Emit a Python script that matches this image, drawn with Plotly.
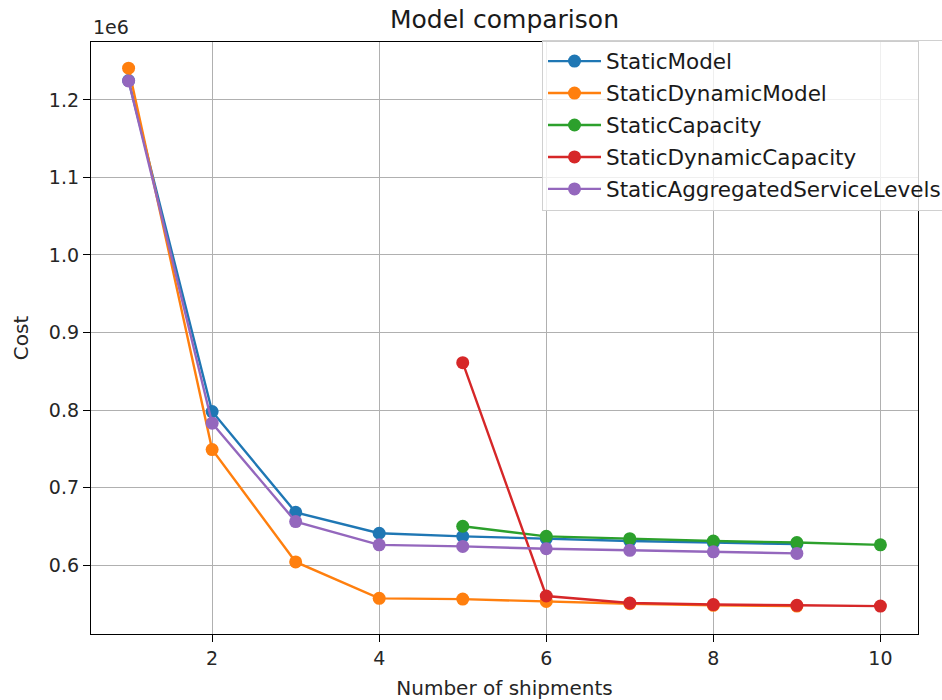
import plotly.graph_objects as go

# Number of shipments per model run
shipments_static = [1, 2, 3, 4, 5, 6, 7, 8, 9]
shipments_static_dynamic = [1, 2, 3, 4, 5, 6, 7, 8, 9]
shipments_capacity = [5, 6, 7, 8, 9, 10]
shipments_dynamic_capacity = [5, 6, 7, 8, 9, 10]
shipments_aggregated = [1, 2, 3, 4, 5, 6, 7, 8, 9]

# Total cost per model
cost_static = [1225000, 798000, 668000, 641000, 637000, 634000, 631000, 629000, 627000]
cost_static_dynamic = [1241000, 749000, 604000, 557000, 556000, 553000, 550000, 548000, 547000]
cost_capacity = [650000, 637000, 634000, 631000, 629000, 626000]
cost_dynamic_capacity = [861000, 560000, 551000, 549000, 548000, 547000]
cost_aggregated = [1224500, 783000, 656000, 626000, 624000, 621000, 619000, 617000, 615000]

y_tick_values = [600000, 700000, 800000, 900000, 1000000, 1100000, 1200000]
y_tick_labels = ["0.6", "0.7", "0.8", "0.9", "1.0", "1.1", "1.2"]
x_tick_values = [2, 4, 6, 8, 10]

series = [
    ("StaticModel", shipments_static, cost_static, "#1f77b4"),
    ("StaticDynamicModel", shipments_static_dynamic, cost_static_dynamic, "#ff7f0e"),
    ("StaticCapacity", shipments_capacity, cost_capacity, "#2ca02c"),
    ("StaticDynamicCapacity", shipments_dynamic_capacity, cost_dynamic_capacity, "#d62728"),
    ("StaticAggregatedServiceLevels", shipments_aggregated, cost_aggregated, "#9467bd"),
]

fig = go.Figure()
for name, xs, ys, color in series:
    fig.add_trace(go.Scatter(
        x=xs, y=ys, name=name, legendgroup=name,
        mode="lines+markers",
        line=dict(color=color, width=2.4),
        marker=dict(color=color, size=13),
    ))

font_family = "DejaVu Sans"
fig.update_layout(
    width=942, height=700,
    margin=dict(l=91, r=24, t=42, b=66, autoexpand=False),
    paper_bgcolor="white", plot_bgcolor="white",
    font=dict(family=font_family, size=19, color="#262626"),
    title=dict(text="Model comparison", x=(91 + 827 / 2) / 942, xanchor="center",
               y=1 - 19 / 700, yanchor="middle",
               font=dict(family=font_family, size=25, color="#1a1a1a")),
    showlegend=True,
    legend=dict(
        x=(542 - 91) / 827, xanchor="left", y=1.004, yanchor="top",
        bgcolor="rgba(255,255,255,0.8)", bordercolor="#d0d0d0", borderwidth=1,
        font=dict(family=font_family, size=21.5, color="#1a1a1a"),
        tracegroupgap=1, itemwidth=53,
    ),
    xaxis=dict(
        range=[0.55, 10.45], tickvals=x_tick_values, automargin=False,
        showgrid=True, gridcolor="#b0b0b0", gridwidth=1,
        showline=True, linecolor="black", linewidth=1.3, mirror=True,
        ticks="outside", ticklen=7, tickcolor="black",
        zeroline=False,
        title=dict(text="Number of shipments", standoff=14,
                   font=dict(family=font_family, size=20)),
    ),
    yaxis=dict(
        range=[511000, 1274800], tickvals=y_tick_values, ticktext=y_tick_labels,
        automargin=False,
        showgrid=True, gridcolor="#b0b0b0", gridwidth=1,
        showline=True, linecolor="black", linewidth=1.3, mirror=True,
        ticks="outside", ticklen=7, tickcolor="black",
        zeroline=False,
        title=dict(text="Cost", standoff=14,
                   font=dict(family=font_family, size=20)),
    ),
    annotations=[dict(
        text="1e6", xref="paper", yref="paper", x=0, y=1, xanchor="left",
        yanchor="bottom", yshift=2, showarrow=False,
        font=dict(family=font_family, size=19, color="#262626"),
    )],
)

fig.write_html("out.html")
